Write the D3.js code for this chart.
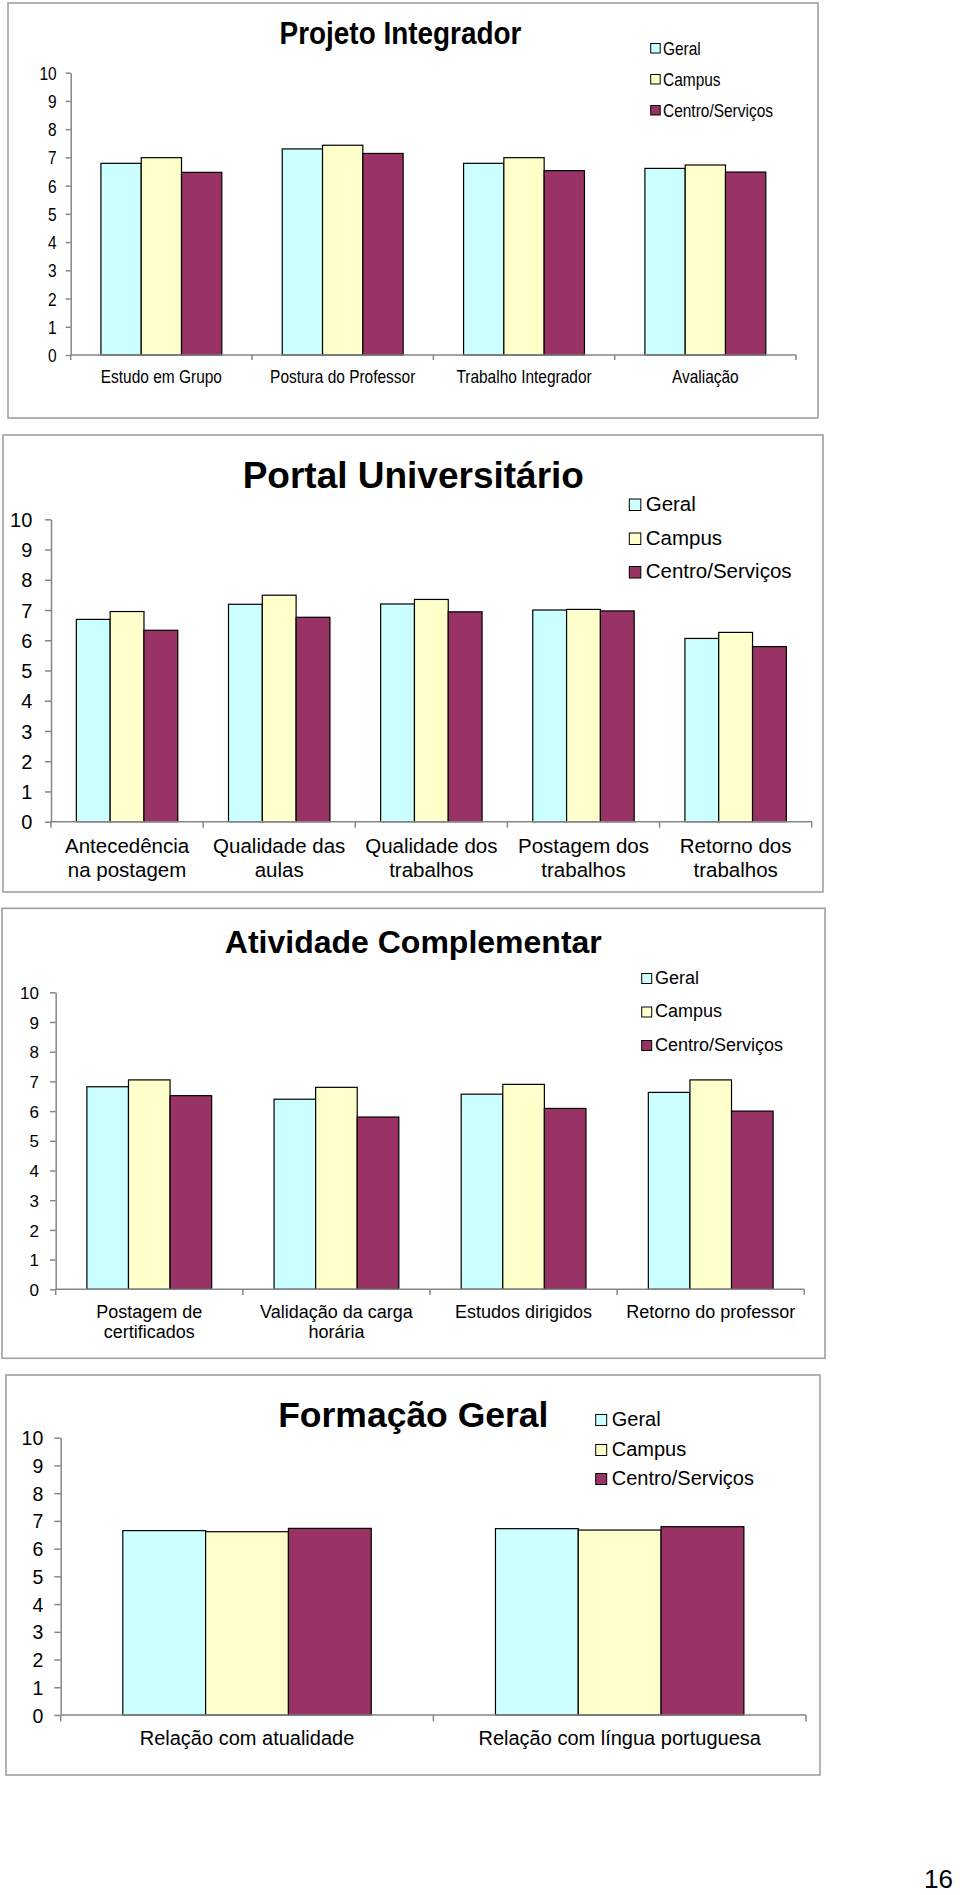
<!DOCTYPE html>
<html>
<head>
<meta charset="utf-8">
<script src="https://cdnjs.cloudflare.com/ajax/libs/d3/7.8.5/d3.min.js"></script>
<style>
  html, body { margin: 0; padding: 0; background: #fff; }
  svg { display: block; }
  text { font-family: "Liberation Sans", Arial, Helvetica, sans-serif; fill: #000; }
</style>
</head>
<body>
<script>
// ---------- DATA ----------
const seriesNames = ["Geral", "Campus", "Centro/Serviços"];
const yTicks = [0, 1, 2, 3, 4, 5, 6, 7, 8, 9, 10];

const projetoTitle = "Projeto Integrador";
const projetoCategories = ["Estudo em Grupo", "Postura do Professor", "Trabalho Integrador", "Avaliação"];
const projetoGeral  = [6.79, 7.30, 6.79, 6.61];
const projetoCampus = [6.99, 7.43, 6.99, 6.73];
const projetoCentro = [6.47, 7.14, 6.53, 6.48];

const portalTitle = "Portal Universitário";
const portalCategories = ["Antecedência\nna postagem", "Qualidade das\naulas", "Qualidade dos\ntrabalhos", "Postagem dos\ntrabalhos", "Retorno dos\ntrabalhos"];
const portalGeral  = [6.69, 7.19, 7.20, 7.00, 6.06];
const portalCampus = [6.95, 7.49, 7.35, 7.02, 6.26];
const portalCentro = [6.33, 6.76, 6.94, 6.97, 5.79];

const atividadeTitle = "Atividade Complementar";
const atividadeCategories = ["Postagem de\ncertificados", "Validação da carga\nhorária", "Estudos dirigidos", "Retorno do professor"];
const atividadeGeral  = [6.82, 6.40, 6.57, 6.63];
const atividadeCampus = [7.05, 6.80, 6.90, 7.05];
const atividadeCentro = [6.52, 5.80, 6.09, 6.00];

const formacaoTitle = "Formação Geral";
const formacaoCategories = ["Relação com atualidade", "Relação com língua portuguesa"];
const formacaoGeral  = [6.65, 6.72];
const formacaoCampus = [6.61, 6.67];
const formacaoCentro = [6.73, 6.79];

const pageNumber = "16";

// ---------- STYLE ----------
const seriesColors = ["#CCFFFF", "#FFFFCC", "#993366"];

const W = 960, H = 1895;
const svg = d3.select("body").append("svg").attr("width", W).attr("height", H);
svg.append("rect").attr("width", W).attr("height", H).attr("fill", "#fff");

function addText(parent, x, y, str, o) {
  const g = parent.append("g").attr("transform", `translate(${x},${y}) scale(${o.sx || 1},1)`);
  g.append("text")
    .attr("text-anchor", o.anchor || "start")
    .attr("font-size", o.size)
    .attr("font-weight", o.weight || "normal")
    .text(str);
  return g;
}

function drawChart(cfg) {
  const g = svg.append("g");
  const [bx0, by0, bx1, by1] = cfg.box;
  g.append("rect").attr("x", bx0).attr("y", by0).attr("width", bx1 - bx0).attr("height", by1 - by0)
    .attr("fill", "#fff").attr("stroke", "#a0a0a0").attr("stroke-width", 1.6);

  const x = d3.scaleBand().domain(cfg.categories).range([cfg.x0, cfg.x1]).paddingInner(0).paddingOuter(0);
  const xs = d3.scaleBand().domain(seriesNames).range([0, x.bandwidth()]).paddingInner(0).paddingOuter(0.75);
  const y = d3.scaleLinear().domain([0, 10]).range([cfg.yBot, cfg.yTop]);

  // bars
  const values = [cfg.geral, cfg.campus, cfg.centro];
  seriesNames.forEach((s, si) => {
    g.append("g").selectAll("rect").data(cfg.categories).join("rect")
      .attr("x", c => x(c) + xs(s))
      .attr("y", (c, i) => y(values[si][i]))
      .attr("width", xs.bandwidth())
      .attr("height", (c, i) => y(0) - y(values[si][i]))
      .attr("fill", seriesColors[si])
      .attr("stroke", "#000").attr("stroke-width", 1.2);
  });

  // y axis
  const ya = g.append("g").attr("transform", `translate(${cfg.x0},0)`)
    .call(d3.axisLeft(y).tickValues(yTicks).tickSize(cfg.tickLen).tickSizeOuter(0).tickPadding(cfg.tickPad));
  ya.select(".domain").attr("stroke", "#868686").attr("stroke-width", 1.5);
  ya.selectAll(".tick line").attr("stroke", "#868686").attr("stroke-width", 1.5);
  ya.selectAll(".tick text").each(function () {
    const t = d3.select(this);
    const tx = +t.attr("x");
    t.attr("x", 0).attr("dy", "0.36em")
      .attr("transform", `translate(${tx},0) scale(${cfg.sx || 1},1)`)
      .attr("font-size", cfg.tickFont)
      .attr("font-family", '"Liberation Sans", Arial, sans-serif')
      .attr("fill", "#000");
  });

  // x axis
  const xa = g.append("g");
  xa.append("line").attr("x1", cfg.x0).attr("x2", cfg.x1).attr("y1", y(0)).attr("y2", y(0))
    .attr("stroke", "#868686").attr("stroke-width", 1.5);
  const bounds = cfg.categories.map(c => x(c)).concat([x.range()[1]]);
  xa.selectAll("line.tk").data(bounds).join("line").attr("class", "tk")
    .attr("x1", d => d).attr("x2", d => d).attr("y1", y(0)).attr("y2", y(0) + cfg.tickLen)
    .attr("stroke", "#868686").attr("stroke-width", 1.5);

  cfg.categories.forEach(c => {
    const lines = c.split("\n");
    lines.forEach((ln, li) => {
      addText(g, x(c) + x.bandwidth() / 2, cfg.catBase[li], ln, { size: cfg.catFont, anchor: "middle", sx: cfg.sx });
    });
  });

  // title
  addText(g, cfg.titleX, cfg.titleY, cfg.title, { size: cfg.titleFont, weight: "bold", anchor: "middle", sx: cfg.titleSx || 1 });

  // legend
  seriesNames.forEach((s, si) => {
    const base = cfg.legBase[si];
    g.append("rect").attr("x", cfg.legSqX).attr("y", base - cfg.legSq - cfg.legSqOff)
      .attr("width", cfg.legSq).attr("height", cfg.legSq)
      .attr("fill", seriesColors[si]).attr("stroke", "#000").attr("stroke-width", 1);
    addText(g, cfg.legTextX, base, s, { size: cfg.legFont, sx: cfg.sx });
  });
}

drawChart({
  title: projetoTitle, categories: projetoCategories,
  geral: projetoGeral, campus: projetoCampus, centro: projetoCentro,
  box: [8, 3, 818, 418], x0: 70.7, x1: 796, yTop: 72.7, yBot: 355,
  tickLen: 5, tickPad: 9, tickFont: 18, sx: 0.86,
  catFont: 18, catBase: [383],
  titleX: 400.5, titleY: 44, titleFont: 31, titleSx: 0.9,
  legSqX: 650.7, legSq: 9.5, legSqOff: 1.5, legTextX: 663, legBase: [54.5, 85.5, 116.5], legFont: 18
});

drawChart({
  title: portalTitle, categories: portalCategories,
  geral: portalGeral, campus: portalCampus, centro: portalCentro,
  box: [3, 435, 823, 892], x0: 51, x1: 811.7, yTop: 519.3, yBot: 821.7,
  tickLen: 6, tickPad: 12.7, tickFont: 20, sx: 1,
  catFont: 20.5, catBase: [853.3, 876.7],
  titleX: 413.3, titleY: 488.3, titleFont: 37,
  legSqX: 629.3, legSq: 11.5, legSqOff: 0, legTextX: 645.7, legBase: [510.5, 544.5, 578], legFont: 20.5
});

drawChart({
  title: atividadeTitle, categories: atividadeCategories,
  geral: atividadeGeral, campus: atividadeCampus, centro: atividadeCentro,
  box: [2, 908.3, 825, 1358.3], x0: 55.7, x1: 804.3, yTop: 992.3, yBot: 1289.3,
  tickLen: 5.7, tickPad: 11, tickFont: 17, sx: 1,
  catFont: 18, catBase: [1317.5, 1337.7],
  titleX: 413.3, titleY: 953.3, titleFont: 32,
  legSqX: 641.7, legSq: 10, legSqOff: 0, legTextX: 655, legBase: [983.5, 1017, 1050.5], legFont: 18
});

drawChart({
  title: formacaoTitle, categories: formacaoCategories,
  geral: formacaoGeral, campus: formacaoCampus, centro: formacaoCentro,
  box: [6, 1375, 820, 1775], x0: 60.7, x1: 806, yTop: 1437.7, yBot: 1715,
  tickLen: 6.4, tickPad: 11, tickFont: 19.5, sx: 1,
  catFont: 20, catBase: [1745],
  titleX: 413.3, titleY: 1426.7, titleFont: 35.5,
  legSqX: 595.7, legSq: 11, legSqOff: 0.5, legTextX: 611.7, legBase: [1426, 1456, 1485], legFont: 20
});

addText(svg, 953, 1888, pageNumber, { size: 26, anchor: "end" });
</script>
</body>
</html>
